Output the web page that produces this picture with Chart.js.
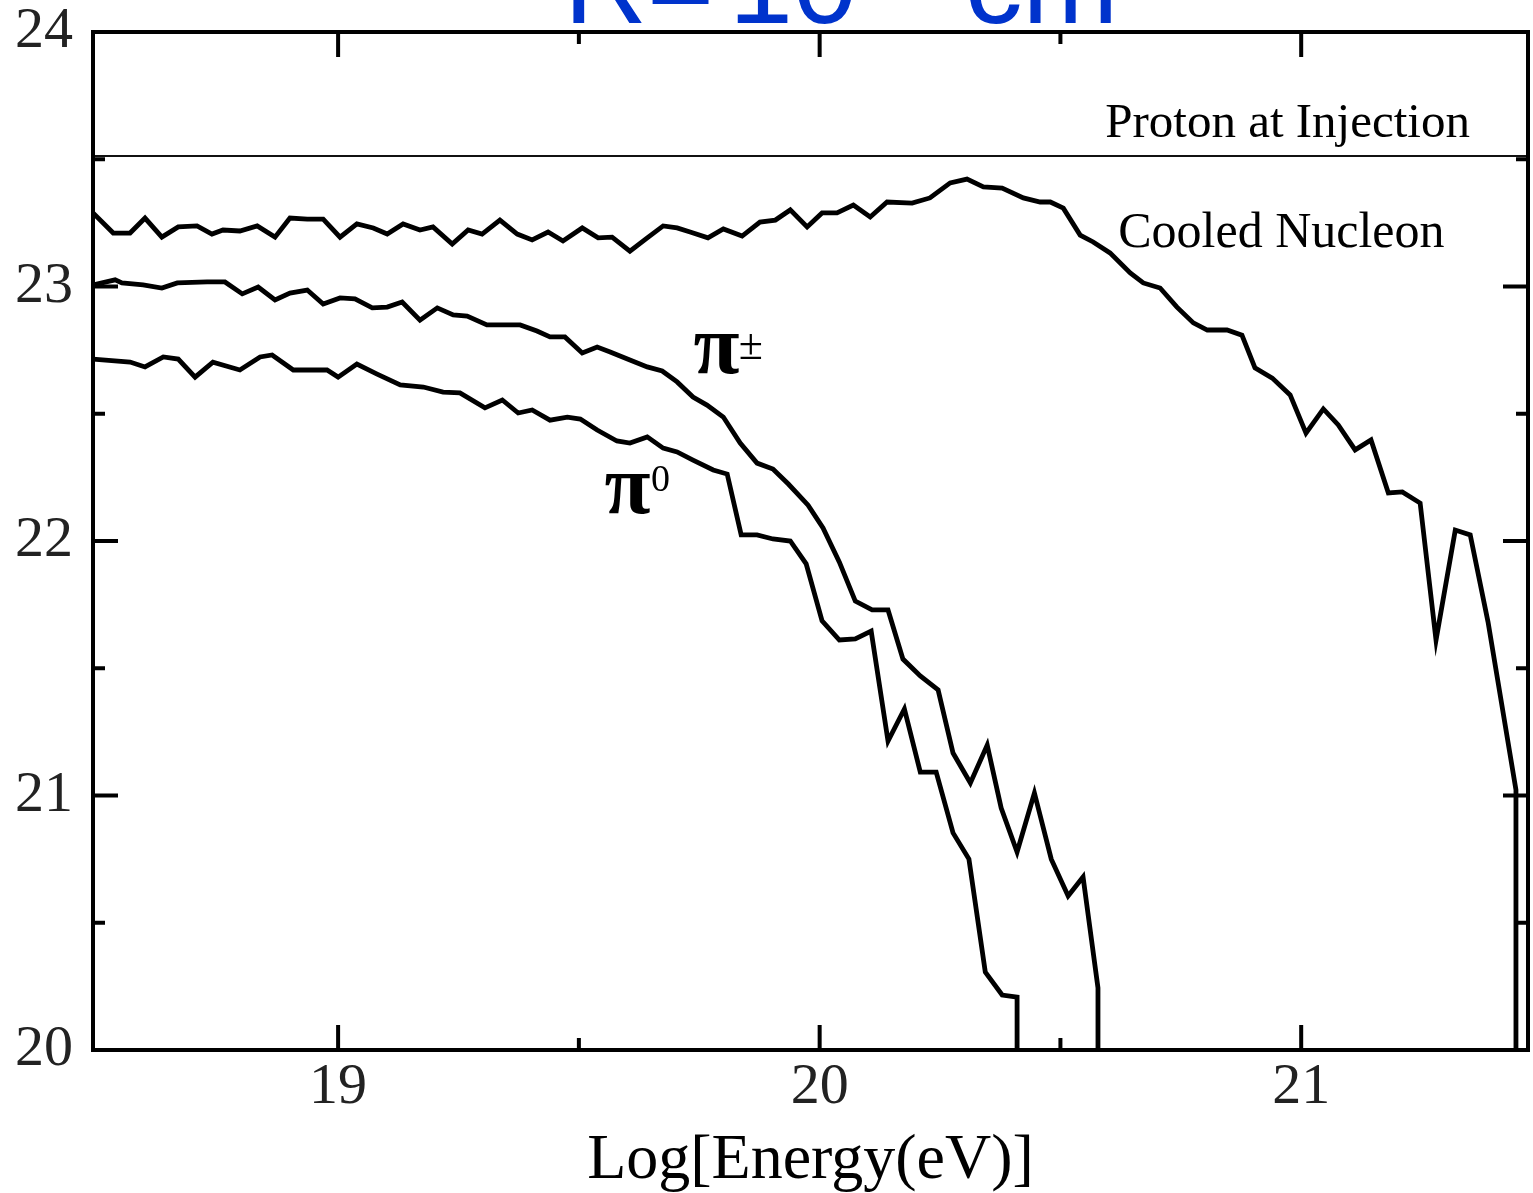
<!DOCTYPE html>
<html><head><meta charset="utf-8">
<script src="https://cdn.jsdelivr.net/npm/chart.js@4/dist/chart.umd.min.js"></script>
<style>html,body{margin:0;padding:0;background:#fff;}#wrap{width:1533px;height:1193px;position:relative;}</style>
</head><body><div id="wrap"><canvas id="c"></canvas></div>
<script>
// ---- data ----
const xMin = 18.491, xMax = 21.471;
const yMin = 20, yMax = 24;
const xTickLabels = [19, 20, 21];
const xMinorTicks = [19.5, 20.5];
const yTickLabels = [20, 21, 22, 23, 24];
const yMinorTicks = [20.5, 21.5, 22.5, 23.5];

const protonX = [18.491, 21.471];
const protonY = [23.513, 23.513];

const cooledX = [18.491,18.533,18.568,18.599,18.634,18.668,18.707,18.738,18.761,18.796,18.832,18.869,18.900,18.936,18.969,19.004,19.039,19.073,19.102,19.135,19.170,19.197,19.237,19.270,19.299,19.336,19.372,19.403,19.436,19.467,19.507,19.540,19.569,19.606,19.642,19.675,19.704,19.731,19.768,19.800,19.839,19.876,19.908,19.939,19.974,20.005,20.036,20.070,20.105,20.140,20.192,20.229,20.271,20.306,20.340,20.379,20.423,20.458,20.479,20.506,20.541,20.568,20.603,20.645,20.672,20.707,20.742,20.776,20.805,20.846,20.877,20.904,20.940,20.977,21.010,21.046,21.077,21.112,21.145,21.181,21.210,21.247,21.280,21.320,21.351,21.388,21.446,21.446];
const cooledY = [23.289,23.210,23.210,23.269,23.194,23.234,23.238,23.206,23.222,23.218,23.238,23.194,23.269,23.265,23.265,23.194,23.246,23.230,23.206,23.246,23.222,23.234,23.167,23.222,23.206,23.261,23.206,23.183,23.214,23.179,23.230,23.191,23.194,23.139,23.191,23.238,23.230,23.214,23.191,23.226,23.198,23.253,23.261,23.301,23.234,23.289,23.289,23.320,23.273,23.332,23.328,23.348,23.407,23.422,23.391,23.387,23.348,23.332,23.332,23.308,23.202,23.175,23.132,23.053,23.014,22.994,22.919,22.857,22.829,22.829,22.809,22.680,22.640,22.574,22.424,22.519,22.456,22.358,22.397,22.189,22.193,22.149,21.611,22.043,22.024,21.682,21.022,20.0];

const chargedPionX = [18.491,18.537,18.551,18.595,18.634,18.666,18.728,18.765,18.801,18.834,18.869,18.900,18.936,18.969,19.004,19.035,19.071,19.102,19.133,19.170,19.206,19.239,19.268,19.309,19.378,19.413,19.440,19.471,19.507,19.538,19.565,19.606,19.642,19.673,19.704,19.737,19.766,19.800,19.835,19.870,19.903,19.935,19.976,20.007,20.041,20.074,20.109,20.142,20.173,20.209,20.246,20.277,20.313,20.348,20.377,20.410,20.446,20.481,20.516,20.547,20.578,20.578];
const chargedPionY = [23.006,23.026,23.014,23.006,22.994,23.014,23.018,23.018,22.971,22.998,22.947,22.974,22.986,22.931,22.955,22.951,22.916,22.919,22.939,22.868,22.916,22.888,22.884,22.849,22.849,22.825,22.802,22.802,22.739,22.762,22.743,22.711,22.684,22.668,22.625,22.566,22.534,22.487,22.385,22.306,22.283,22.224,22.141,22.051,21.917,21.764,21.729,21.729,21.536,21.470,21.415,21.167,21.049,21.198,20.951,20.778,21.010,20.750,20.605,20.680,20.244,20.0];

const neutralPionX = [18.491,18.568,18.599,18.637,18.668,18.703,18.740,18.796,18.838,18.863,18.907,18.977,19.000,19.039,19.081,19.129,19.177,19.218,19.253,19.305,19.341,19.374,19.403,19.440,19.476,19.503,19.538,19.579,19.606,19.642,19.675,19.704,19.737,19.779,19.808,19.837,19.870,19.903,19.939,19.972,20.005,20.041,20.074,20.107,20.142,20.176,20.209,20.242,20.277,20.310,20.344,20.379,20.410,20.410];
const neutralPionY = [22.715,22.703,22.684,22.723,22.715,22.644,22.703,22.672,22.723,22.731,22.672,22.672,22.644,22.695,22.656,22.613,22.605,22.585,22.582,22.523,22.554,22.503,22.515,22.475,22.487,22.479,22.436,22.393,22.385,22.409,22.365,22.350,22.318,22.279,22.263,22.024,22.024,22.008,22.000,21.910,21.686,21.611,21.615,21.646,21.214,21.340,21.092,21.092,20.853,20.750,20.306,20.216,20.208,20.0];

// ---- helpers ----
const pts = (xs, ys) => xs.map((x, i) => ({x: x, y: ys[i]}));

const serif = "'Liberation Serif', 'Times New Roman', serif";
const sans = "'Liberation Sans', Arial, sans-serif";

// labels anchored in data coordinates
const annotations = [
  {text: 'Proton at Injection', x: 20.593, y: 23.587, font: '49px ' + serif},
  {text: 'Cooled Nucleon', x: 20.620, y: 23.155, font: '50px ' + serif},
  {text: '\u03C0', x: 19.738, y: 22.660, font: 'bold 84px ' + serif},
  {text: '\u00B1', x: 19.832, y: 22.715, font: '44px ' + serif},
  {text: '\u03C0', x: 19.553, y: 22.110, font: 'bold 84px ' + serif},
  {text: '0', x: 19.650, y: 22.195, font: '38px ' + serif}
];

const framePlugin = {
  id: 'frame',
  afterDatasetsDraw(chart) {
    const ctx = chart.ctx, a = chart.chartArea;
    const sx = chart.scales.x, sy = chart.scales.y;
    ctx.save();
    ctx.strokeStyle = '#000';
    ctx.lineWidth = 4;
    ctx.lineCap = 'butt';
    ctx.strokeRect(a.left, a.top, a.right - a.left, a.bottom - a.top);
    const major = 25, minor = 12;
    ctx.beginPath();
    const xt = (v, len) => {
      const p = sx.getPixelForValue(v);
      ctx.moveTo(p, a.bottom); ctx.lineTo(p, a.bottom - len);
      ctx.moveTo(p, a.top); ctx.lineTo(p, a.top + len);
    };
    const yt = (v, len) => {
      const p = sy.getPixelForValue(v);
      ctx.moveTo(a.left, p); ctx.lineTo(a.left + len, p);
      ctx.moveTo(a.right, p); ctx.lineTo(a.right - len, p);
    };
    xTickLabels.forEach(v => xt(v, major));
    xMinorTicks.forEach(v => xt(v, minor));
    yTickLabels.forEach(v => yt(v, major));
    yMinorTicks.forEach(v => yt(v, minor));
    ctx.stroke();
    ctx.restore();
  },
  afterDraw(chart) {
    const ctx = chart.ctx;
    const sx = chart.scales.x, sy = chart.scales.y;
    ctx.save();
    ctx.fillStyle = '#000';
    ctx.textBaseline = 'alphabetic';
    ctx.textAlign = 'left';
    annotations.forEach(an => {
      ctx.font = an.font;
      ctx.fillText(an.text, sx.getPixelForValue(an.x), sy.getPixelForValue(an.y));
    });
    // blue heading, mostly cut off by the top edge of the picture
    ctx.fillStyle = '#0033cc';
    ctx.font = '115px ' + sans;
    ctx.fillText('R=', 564, 23);
    ctx.fillText('10', 729, 23);
    ctx.fillText('cm', 965, 23);
    ctx.restore();
  }
};

new Chart(document.getElementById('c'), {
  type: 'scatter',
  data: {
    datasets: [
      {label: 'Proton at Injection', data: pts(protonX, protonY), showLine: true, borderColor: '#111', borderWidth: 2, pointRadius: 0},
      {label: 'Cooled Nucleon', data: pts(cooledX, cooledY), showLine: true, borderColor: '#000', borderWidth: 4.8, pointRadius: 0},
      {label: '\u03C0\u00B1', data: pts(chargedPionX, chargedPionY), showLine: true, borderColor: '#000', borderWidth: 4.8, pointRadius: 0},
      {label: '\u03C00', data: pts(neutralPionX, neutralPionY), showLine: true, borderColor: '#000', borderWidth: 4.8, pointRadius: 0}
    ]
  },
  options: {
    responsive: true,
    maintainAspectRatio: false,
    animation: false,
    devicePixelRatio: 1,
    layout: {padding: {top: 32, right: 5, left: 0, bottom: 0}},
    plugins: {legend: {display: false}, tooltip: {enabled: false}},
    elements: {point: {radius: 0}, line: {tension: 0, borderJoinStyle: 'miter'}},
    scales: {
      x: {
        type: 'linear', min: xMin, max: xMax,
        afterBuildTicks: s => { s.ticks = xTickLabels.map(v => ({value: v})); },
        afterFit: s => { s.height = 143; s.paddingLeft = 0; s.paddingRight = 0; },
        grid: {display: false, drawTicks: false},
        border: {display: false},
        ticks: {font: {family: serif, size: 58, lineHeight: 1}, color: '#222', padding: 9, maxRotation: 0, callback: v => String(v)},
        title: {display: true, text: 'Log[Energy(eV)]', font: {family: serif, size: 64, lineHeight: 1}, color: '#000', padding: {top: 0, bottom: 0}}
      },
      y: {
        type: 'linear', min: yMin, max: yMax,
        afterBuildTicks: s => { s.ticks = yTickLabels.map(v => ({value: v})); },
        afterFit: s => { s.width = 93; s.paddingTop = 0; s.paddingBottom = 0; },
        grid: {display: false, drawTicks: false},
        border: {display: false},
        ticks: {font: {family: serif, size: 58, lineHeight: 1}, color: '#222', padding: 20, callback: v => String(v)}
      }
    }
  },
  plugins: [framePlugin]
});
</script>
</body></html>
